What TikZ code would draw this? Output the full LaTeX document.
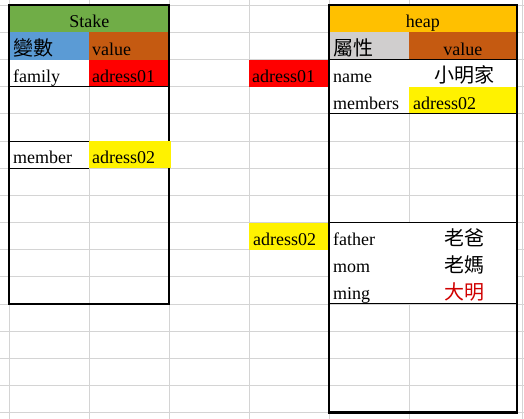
\documentclass[tikz,border=0pt]{standalone}
\usepackage{fontspec}
\setmainfont{Liberation Serif}
\newfontfamily\cjk{Noto Sans CJK TC}
\definecolor{stakegreen}{HTML}{70AD47}
\definecolor{varblue}{HTML}{5B9BD5}
\definecolor{valorange}{HTML}{C55A11}
\definecolor{heapgold}{HTML}{FFC000}
\definecolor{propgray}{HTML}{D0CECE}
\definecolor{gridgray}{HTML}{D4D4D4}
\definecolor{kidred}{HTML}{D00000}
\tikzset{
  grid line/.style={gridgray, line width=0.9pt},
  tableframe/.style={line width=2.2pt},
  thinrule/.style={line width=1pt},
  cell/.style={inner sep=0pt, anchor=base west, font=\fontsize{18}{18}\selectfont},
  mid cell/.style={cell, anchor=base},
  zh/.style={inner sep=0pt, anchor=base west, font=\fontsize{20}{20}\cjk},
}

\begin{document}
\begin{tikzpicture}[x=80pt, y=-27.15pt]
    \useasboundingbox (-0.11625,-0.1952) rectangle (6.43375,15.237);

    % spreadsheet grid
    \foreach \r in {0,...,15} \draw[grid line] (-0.2,\r) -- (6.5,\r);
    \foreach \c in {0,...,5} \draw[grid line] (\c,-0.3) -- (\c,15.4);
    \draw[grid line] (6.409,-0.3) -- (6.409,15.4);

    % stake cells
    \fill[stakegreen] (0,0) rectangle (2,1);
    \fill[varblue] (0,1) rectangle (1,2);
    \fill[valorange] (1,1) rectangle (2,2);
    \fill[white] (0,2) rectangle (1,3);
    \fill[red] (1,2) rectangle (2,3);
    \fill[white] (0,5) rectangle (1,6);

    % heap cells
    \fill[heapgold] (4,0) rectangle (6.346,1);
    \fill[propgray] (4,1) rectangle (5,2);
    \fill[valorange] (5,1) rectangle (6.346,2);
    \fill[white] (4,2) rectangle (6.346,4);
    \fill[yellow] (5,3) rectangle (6.346,4);
    \fill[white] (4,8) rectangle (6.346,11);

    % addresses in between
    \fill[red] (3,2) rectangle (4,3);
    \fill[yellow] (3,8) rectangle (4,9);

    % frames
    \draw[tableframe] (0,0) rectangle (2,11);
    \draw[thinrule] (0,3) -- (2,3);
    \draw[thinrule] (0,5) -- (1,5) (0,6) -- (1,6);
    \fill[yellow] (1,5) rectangle (2.015,6);
    \draw[tableframe] (4,0) rectangle (6.346,15);
    \draw[thinrule] (4,2) -- (6.346,2) (4,4) -- (6.346,4)
        (4,8) -- (6.346,8) (4,11) -- (6.346,11);

    % stake texts
    \node[mid cell] (stake) at (1,0.834) {Stake};
    \node[zh] (var) at (0.046,1.834) {變數};
    \node[cell] (stakeval) at (1.034,1.834) {value};
    \node[cell] (family) at (0.046,2.834) {family};
    \node[cell] (famaddr) at (1.034,2.834) {adress01};
    \node[cell] (member) at (0.046,5.834) {member};
    \node[cell] (memaddr) at (1.034,5.834) {adress02};

    % pointers
    \node[cell] (ptrA) at (3.034,2.834) {adress01};
    \node[cell] (ptrB) at (3.046,8.834) {adress02};

    % heap texts
    \node[mid cell] (heap) at (5.171,0.834) {heap};
    \node[zh] (prop) at (4.046,1.834) {屬性};
    \node[mid cell] (heapval) at (5.671,1.834) {value};
    \node[cell] (name) at (4.046,2.834) {name};
    \node[zh, anchor=base] (home) at (5.69,2.834) {小明家};
    \node[cell] (members) at (4.046,3.834) {members};
    \node[cell] (heapaddr) at (5.046,3.834) {adress02};
    \node[cell] (father) at (4.046,8.834) {father};
    \node[zh, anchor=base] (dad) at (5.684,8.834) {老爸};
    \node[cell] (mom) at (4.046,9.834) {mom};
    \node[zh, anchor=base] (mum) at (5.684,9.834) {老媽};
    \node[cell] (ming) at (4.046,10.834) {ming};
    \node[zh, anchor=base, kidred] (kid) at (5.684,10.834) {大明};
\end{tikzpicture}
\end{document}
